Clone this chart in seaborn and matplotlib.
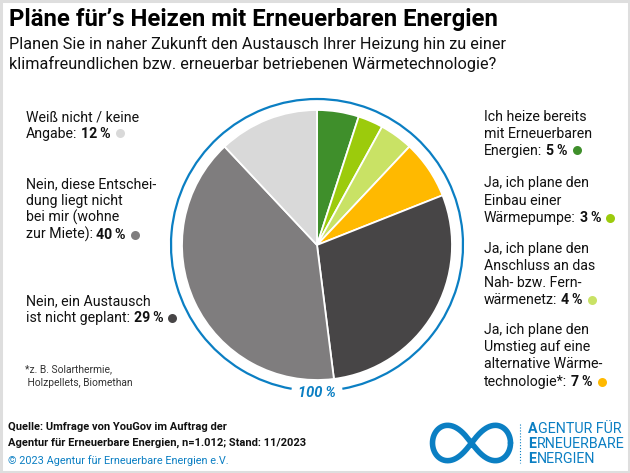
#!/usr/bin/env python3
"""
Generate the pie chart on planned heating replacements.

Current figures:
  out.png
"""

import matplotlib
matplotlib.use("Agg")
import matplotlib.pyplot as plt
import numpy as np
from matplotlib.patches import Arc, Rectangle
import seaborn as sns


FIGURE_WIDTH_PX = 630
FIGURE_HEIGHT_PX = 473
DPI = 100

BLUE = "#0b7fc3"
TEXT_COLOR = "#111111"

CATEGORIES = [
    "Ich heize bereits mit Erneuerbaren Energien",
    "Wärmepumpe",
    "Nah- bzw. Fernwärmenetz",
    "alternative Wärmetechnologie",
    "Nein, ein Austausch ist nicht geplant",
    "Nein, diese Entscheidung liegt nicht bei mir",
    "Weiß nicht / keine Angabe",
]
VALUES = [5, 3, 4, 7, 29, 40, 12]
SLICE_COLORS = ["#3f8f2b", "#9ccb0c", "#c9e265", "#ffb900", "#474546", "#7f7d7e", "#d9d9d9"]

TITLE = "Pläne für’s Heizen mit Erneuerbaren Energien"
QUESTION = [
    "Planen Sie in naher Zukunft den Austausch Ihrer Heizung hin zu einer",
    "klimafreundlichen bzw. erneuerbar betriebenen Wärmetechnologie?",
]
LEFT_LABELS = [
    (["Weiß nicht / keine", "Angabe:"], [121, 138], 6),
    (["Nein, diese Entschei-", "dung liegt nicht", "bei mir (wohne", "zur Miete):"], [188, 205, 222, 239], 5),
    (["Nein, ein Austausch", "ist nicht geplant:"], [305, 322], 4),
]
RIGHT_LABELS = [
    (["Ich heize bereits", "mit Erneuerbaren", "Energien:"], [121, 138, 155], 0),
    (["Ja, ich plane den", "Einbau einer", "Wärmepumpe:"], [187, 205, 222], 1),
    (["Ja, ich plane den", "Anschluss an das", "Nah- bzw. Fern-", "wärmenetz:"], [253, 270, 287, 304], 2),
    (["Ja, ich plane den", "Umstieg auf eine", "alternative Wärme-", "technologie*:"], [334, 351, 368, 386], 3),
]
FOOTNOTE = ["*z. B. Solarthermie,", " Holzpellets, Biomethan"]
SOURCE = [
    "Quelle: Umfrage von YouGov im Auftrag der",
    "Agentur für Erneuerbare Energien, n=1.012; Stand: 11/2023",
]
COPYRIGHT = "© 2023 Agentur für Erneuerbare Energien e.V."
LOGO_TEXT = ["AGENTUR FÜR", "ERNEUERBARE", "ENERGIEN"]

sns.set_style("white")
plt.rcParams.update({
    "font.family": ["Roboto", "DejaVu Sans"],
    "font.size": 9,
    "figure.dpi": DPI,
    "savefig.bbox": None,
})


def add_label(fig, ax, lines: list, baselines: list, index: int, x: float) -> None:
    for line, y in zip(lines[:-1], baselines[:-1]):
        ax.text(x, y, line, fontsize=10.2, color=TEXT_COLOR)

    # last line: plain text, bold share, coloured dot
    renderer = fig.canvas.get_renderer()
    first = ax.text(x, baselines[-1], lines[-1], fontsize=10.2, color=TEXT_COLOR)
    next_x = x + first.get_window_extent(renderer).width + 4
    share = ax.text(next_x, baselines[-1], f"{VALUES[index]}\u2009%", fontsize=10.2,
                    fontweight="bold", color=TEXT_COLOR)
    dot_x = next_x + share.get_window_extent(renderer).width + 9
    ax.scatter([dot_x], [baselines[-1] - 4.5], s=42, color=SLICE_COLORS[index], linewidths=0)


def add_pie(fig) -> None:
    ax = fig.add_axes([167 / FIGURE_WIDTH_PX, (473 - 395) / FIGURE_HEIGHT_PX,
                       300 / FIGURE_WIDTH_PX, 300 / FIGURE_HEIGHT_PX])
    ax.pie(
        VALUES,
        colors=sns.color_palette(SLICE_COLORS),
        startangle=90,
        counterclock=False,
        radius=135,
        wedgeprops={"edgecolor": "white", "linewidth": 1.3},
    )
    ax.set_xlim(-150, 150)
    ax.set_ylim(-150, 150)
    ax.set_axis_off()
    # ring around the pie, open at the bottom for the 100 % label
    ax.add_patch(Arc((0, 0), 292, 292, theta1=-80, theta2=260, color=BLUE, linewidth=1.6))


def add_logo(fig, ax) -> None:
    t = np.linspace(0, 2 * np.pi, 300)
    ax.plot(471.5 + 39 * np.cos(t) / (1 + np.sin(t) ** 2),
            443 + 50 * np.sin(t) * np.cos(t) / (1 + np.sin(t) ** 2),
            color=BLUE, linewidth=4)
    ax.plot([520, 520], [424, 463], color=BLUE, linewidth=0.8, linestyle=":")
    renderer = fig.canvas.get_renderer()
    for line, y in zip(LOGO_TEXT, [433, 448, 463]):
        initial = ax.text(528, y, line[0], fontsize=10.3, fontweight="bold", color=BLUE)
        ax.text(528.7 + initial.get_window_extent(renderer).width, y, line[1:], fontsize=10.3, color=BLUE)


def plot_heating_pie() -> str:
    fig = plt.figure(figsize=(FIGURE_WIDTH_PX / DPI, FIGURE_HEIGHT_PX / DPI), facecolor="white")

    add_pie(fig)

    ax = fig.add_axes([0, 0, 1, 1])
    ax.set_xlim(0, FIGURE_WIDTH_PX)
    ax.set_ylim(FIGURE_HEIGHT_PX, 0)
    ax.set_axis_off()
    ax.patch.set_alpha(0)
    ax.add_patch(Rectangle((1, 1.5), 627.5, 470, fill=False, edgecolor="#dedede", linewidth=2.2))

    ax.text(9, 26, TITLE, fontsize=17.2, fontweight="bold", color="#000000")
    for line, y in zip(QUESTION, [49, 69]):
        ax.text(9, y, line, fontsize=11.7, color=TEXT_COLOR)

    for lines, baselines, index in LEFT_LABELS:
        add_label(fig, ax, lines, baselines, index, 25.5)
    for lines, baselines, index in RIGHT_LABELS:
        add_label(fig, ax, lines, baselines, index, 484)

    for line, y in zip(FOOTNOTE, [372, 386]):
        ax.text(25, y, line, fontsize=7.4, color="#333333")

    ax.text(317, 397, "100\u2009%", fontsize=10.5, fontweight="bold", fontstyle="italic",
            color=BLUE, ha="center")

    for line, y in zip(SOURCE, [430, 446]):
        ax.text(8, y, line, fontsize=8, fontweight="bold", color=TEXT_COLOR)
    ax.text(8, 464, COPYRIGHT, fontsize=7.8, color=BLUE)

    add_logo(fig, ax)

    out_path = "out.png"
    fig.savefig(out_path, dpi=DPI)
    plt.close(fig)
    print(f"  {out_path}")
    return out_path


def main() -> None:
    plot_heating_pie()


if __name__ == "__main__":
    main()
